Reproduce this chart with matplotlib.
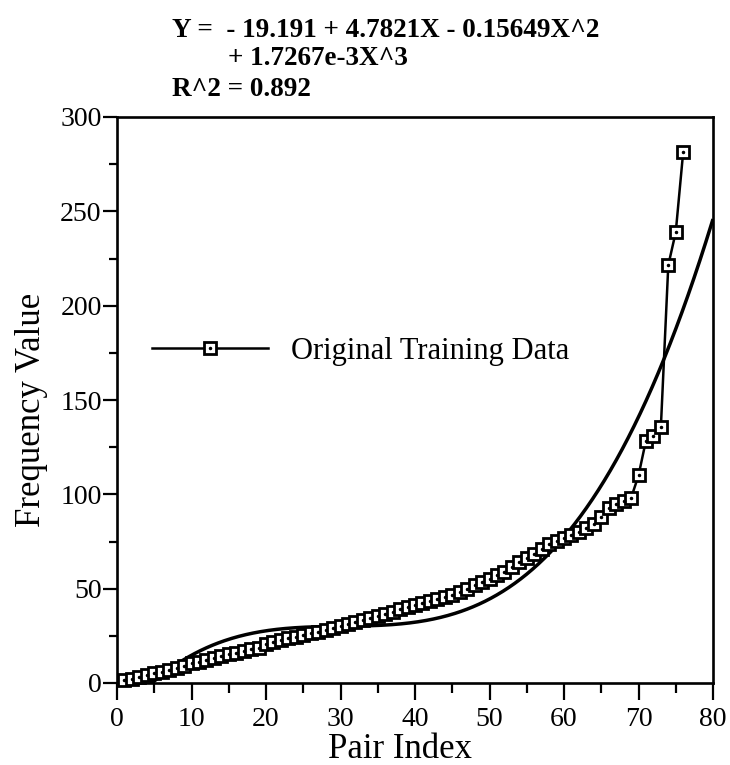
import numpy as np
import matplotlib
matplotlib.use("Agg")
import matplotlib.pyplot as plt
from matplotlib.lines import Line2D
from matplotlib.legend_handler import HandlerTuple
from matplotlib.ticker import MultipleLocator

# ---- data ----
pair_index = list(range(1, 77))
frequency = [
    1.6, 2.1, 3.0, 4.2, 5.5, 6.0, 6.9, 8.1, 9.2, 10.4,
    11.3, 12.2, 13.4, 14.3, 15.2, 16.1, 17.0, 17.8, 18.7, 20.5,
    21.9, 22.8, 23.7, 24.6, 25.3, 26.3, 27.2, 28.1, 29.0, 30.2,
    31.3, 32.3, 33.4, 34.4, 35.5, 36.6, 37.6, 39.0, 40.1, 41.2,
    42.5, 43.5, 44.5, 45.5, 46.8, 48.3, 50.0, 51.8, 53.5, 55.0,
    57.0, 59.0, 61.5, 64.0, 66.0, 68.5, 71.0, 73.5, 75.5, 77.0,
    78.5, 80.0, 82.0, 84.5, 88.0, 93.0, 95.0, 96.5, 98.0, 110.0,
    128.5, 131.0, 135.5, 221.5, 239.0, 281.5,
]
# cubic fit coefficients printed on the chart (c0, c1, c2, c3)
fit_coeffs = [-19.191, 4.7821, -0.15649, 1.7267e-3]
x_ticks = [0, 10, 20, 30, 40, 50, 60, 70, 80]
y_ticks = [0, 50, 100, 150, 200, 250, 300]
title_line1 = "Y =  - 19.191 + 4.7821X - 0.15649X^2"
title_line2 = "+ 1.7267e-3X^3"
title_line3 = "R^2 = 0.892"
legend_label = "Original Training Data"
x_label = "Pair Index"
y_label = "Frequency Value"

plt.rcParams['font.family'] = ['Liberation Serif', 'DejaVu Serif']

W, H = 730, 765
fig = plt.figure(figsize=(W / 100, H / 100), dpi=100)
ax = fig.add_axes([117 / W, 1 - 683 / H, 596 / W, 566 / H])

xs = np.linspace(x_ticks[0], x_ticks[-1], 500)
ys = np.polynomial.polynomial.polyval(xs, fit_coeffs)
ax.plot(xs, ys, color='black', lw=2.5, solid_capstyle='butt')

mstyle = dict(marker='s', ms=8.5, mfc='white', mec='black', mew=2.0)
ax.plot(pair_index, frequency, color='black', lw=1.8, clip_on=False,
        zorder=3, **mstyle)
ax.plot(pair_index, frequency, ls='none', marker='.', ms=3, color='black',
        clip_on=False, zorder=4)

ax.set_xlim(x_ticks[0], x_ticks[-1])
ax.set_ylim(y_ticks[0], y_ticks[-1])
ax.set_xticks(x_ticks)
ax.set_yticks(y_ticks)
ax.xaxis.set_minor_locator(MultipleLocator(5))
ax.yaxis.set_minor_locator(MultipleLocator(25))
ax.tick_params(which='major', direction='out', length=12, width=1.6,
               labelsize=20, top=False, right=False)
ax.tick_params(which='minor', direction='out', length=7, width=1.6,
               top=False, right=False)
ax.tick_params(axis='x', which='major', pad=5)
ax.tick_params(axis='y', which='major', length=10, pad=1)
ax.tick_params(axis='y', which='minor', length=6)
for s in ax.spines.values():
    s.set_linewidth(1.9)

ax.set_xlabel(x_label, fontsize=25)
ax.set_ylabel(y_label, fontsize=25)
ax.xaxis.set_label_coords((400 - 117) / 596, (683 - 733) / 566)
ax.yaxis.set_label_coords((48 - 117) / 596, (683 - 410) / 566)

h1 = Line2D([], [], color='black', lw=1.8, **mstyle)
h2 = Line2D([], [], ls='none', marker='.', ms=3, color='black')
ax.legend([(h1, h2)], [legend_label],
          handler_map={tuple: HandlerTuple(ndivide=1)},
          frameon=False, loc='center left',
          bbox_to_anchor=(35 / 596, (683 - 351) / 566),
          borderpad=0, borderaxespad=0, handlelength=3.8,
          handletextpad=0.75, numpoints=1, fontsize=22)

fig.text(172 / W, 1 - 37 / H, title_line1, ha='left', va='baseline',
         fontsize=19.5, fontweight='bold')
fig.text(228 / W, 1 - 65 / H, title_line2, ha='left', va='baseline',
         fontsize=19.5, fontweight='bold')
fig.text(172 / W, 1 - 96 / H, title_line3, ha='left', va='baseline',
         fontsize=19.5, fontweight='bold')

fig.savefig("out.png", dpi=100)
